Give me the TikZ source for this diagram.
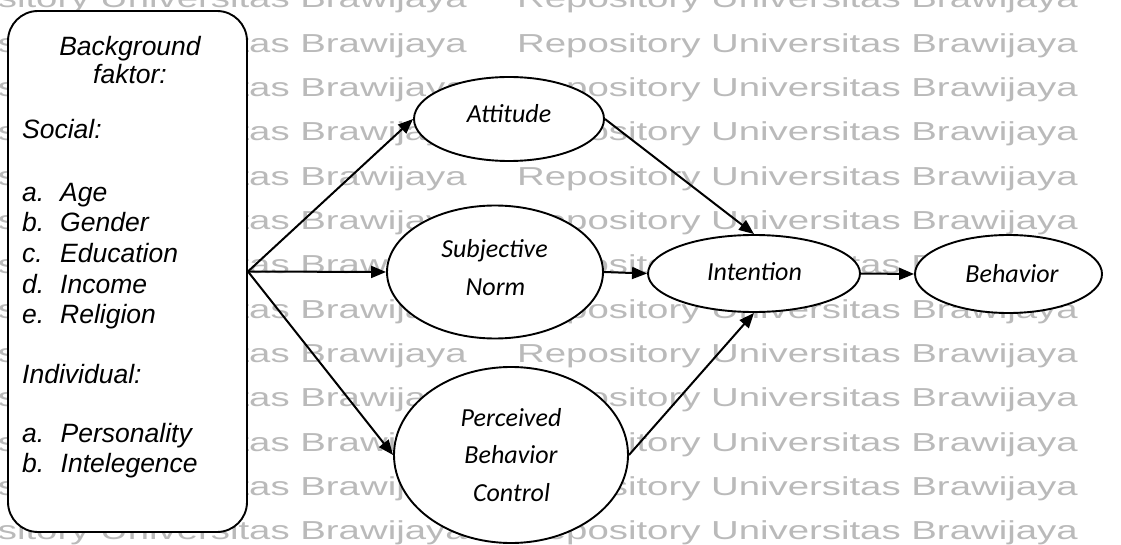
\documentclass[tikz,border=0pt]{standalone}
\usepackage{fontspec}
\setmainfont{Liberation Sans}
\newfontfamily\calibrifont{Carlito}
\usetikzlibrary{arrows.meta,shapes.geometric}

\begin{document}
\begin{tikzpicture}[x=1pt,y=-1pt,
  wmark/.style={anchor=base west, inner sep=0pt, text=black!27,
    font=\fontsize{26}{30}\selectfont},
  frame/.style={draw, fill=white, line width=1.9pt, inner sep=0pt},
  ell/.style={frame, ellipse},
  boxtxt/.style={inner sep=0pt, font=\fontsize{26.5}{30}\selectfont\itshape},
  elltxt/.style={inner sep=0pt, anchor=base, font=\fontsize{26}{30}\selectfont\calibrifont\itshape},
  conn/.style={line width=2pt, -{Triangle[length=15pt,width=12pt]}}
]
\useasboundingbox (0,0) rectangle (1121,545);

% background repository stamp, repeated in rows
\foreach \k in {0,...,12}{
  \node[wmark] (wmL\k) at (-94,8+44.33*\k) {\scalebox{1.475}[1]{Repository Universitas Brawijaya}};
  \node[wmark] (wmR\k) at (517,8+44.33*\k) {\scalebox{1.475}[1]{Repository Universitas Brawijaya}};
}

% background factors box
\node[frame, rounded corners=30pt, minimum width=239pt, minimum height=521pt] (bg) at (127.5,271.5) {};
\node[boxtxt, anchor=base] (bgT1) at (130,56) {Background};
\node[boxtxt, anchor=base] (bgT2) at (130,84) {faktor:};
\node[boxtxt, anchor=base west] (soc) at (22,139) {Social:};
\foreach \lab/\item/\yy [count=\i] in {a./Age/202, b./Gender/232, c./Education/262, d./Income/293, e./Religion/323}{
  \node[boxtxt, anchor=base west] (socL\i) at (22,\yy) {\lab};
  \node[boxtxt, anchor=base west] (socI\i) at (60,\yy) {\item};
}
\node[boxtxt, anchor=base west] (ind) at (22,383) {Individual:};
\foreach \lab/\item/\yy [count=\i] in {a./Personality/442, b./Intelegence/472}{
  \node[boxtxt, anchor=base west] (indL\i) at (22,\yy) {\lab};
  \node[boxtxt, anchor=base west] (indI\i) at (60.5,\yy) {\item};
}

% model constructs
\node[ell, minimum width=190pt, minimum height=84pt]  (att) at (509,119) {};
\node[ell, minimum width=216pt, minimum height=133pt] (sn)  at (495,272) {};
\node[ell, minimum width=234pt, minimum height=176pt] (pbc) at (511,455) {};
\node[ell, minimum width=212pt, minimum height=77pt]  (int) at (754,273.5) {};
\node[ell, minimum width=187pt, minimum height=78pt]  (beh) at (1008.5,274) {};

\node[elltxt] (attT)  at (509,122.5) {Attitude};
\node[elltxt] (snT1)  at (494.5,258) {Subjective};
\node[elltxt] (snT2)  at (495.5,295) {Norm};
\node[elltxt] (pbcT1) at (511,426) {Perceived};
\node[elltxt] (pbcT2) at (511,463) {Behavior};
\node[elltxt] (pbcT3) at (511.5,501) {Control};
\node[elltxt] (intT)  at (754.5,280) {Intention};
\node[elltxt] (behT)  at (1012,282) {Behavior};

% connectors
\coordinate (fan) at (bg.east);
\draw[conn] (fan) -- (att.west);
\draw[conn] (fan) -- (sn.west);
\draw[conn] (fan) -- (pbc.west);
\draw[conn] (att.east) -- (int.north);
\draw[conn] (sn.east) -- (int.west);
\draw[conn] (pbc.east) -- (int.south);
\draw[conn] (int.east) -- (beh.west);
\end{tikzpicture}
\end{document}
